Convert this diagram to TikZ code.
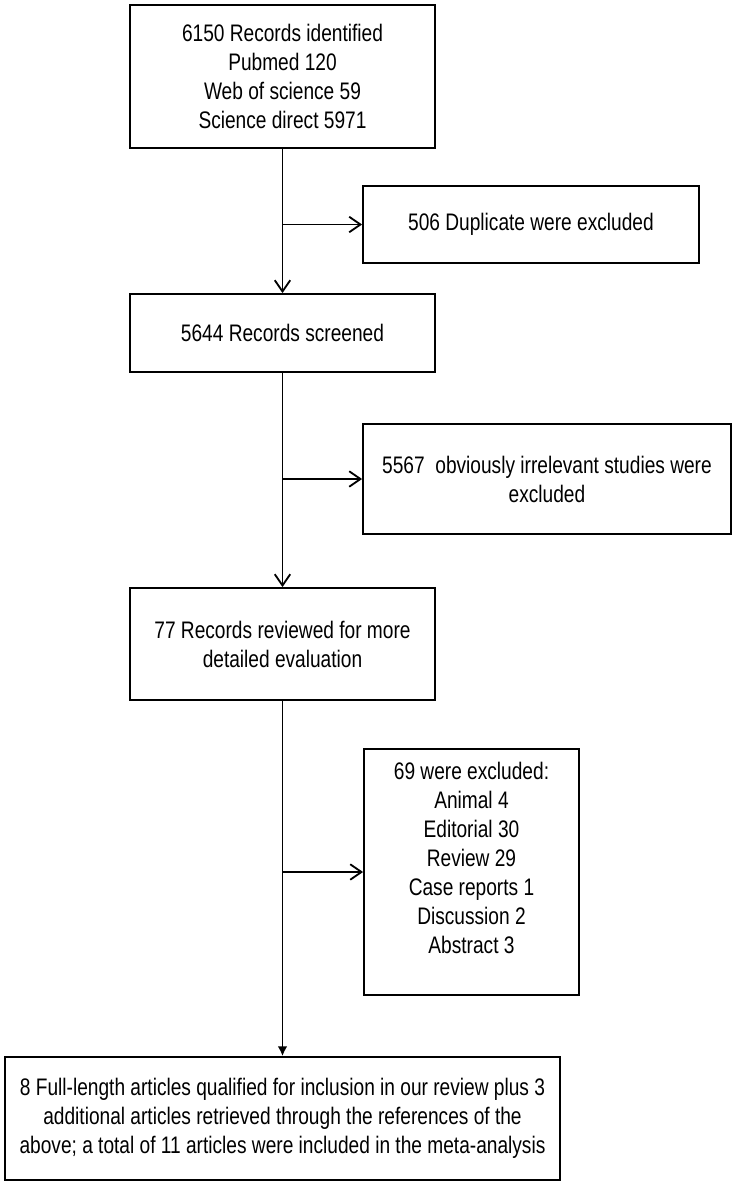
\documentclass[tikz,border=0pt]{standalone}
\usepackage{fontspec}
\setmainfont[FakeStretch=0.8]{Liberation Sans}
\usepackage{tikz}
\usetikzlibrary{arrows.meta}
\newcommand{\pxu}{0.025cm}

\begin{document}
\begin{tikzpicture}[x=\pxu,y=-\pxu,>={Straight Barb[length=8pt,width=11pt]},line width=1.3pt,
    flowbox/.style={draw,rectangle,inner sep=0pt,align=center,font=\fontsize{17}{20.6}\selectfont}]
			\useasboundingbox (0,0) rectangle (737,1185);

			% Draw the boxes of the main column
			\node[flowbox,minimum width=305*\pxu,minimum height=143*\pxu] (ident) at (282.5,76.5)
				{6150 Records identified\\Pubmed 120\\Web of science 59\\Science direct 5971};
			\node[flowbox,minimum width=305*\pxu,minimum height=78*\pxu] (screen) at (282.5,333)
				{5644 Records screened};
			\node[flowbox,minimum width=305*\pxu,minimum height=112*\pxu] (review) at (282.5,644)
				{77 Records reviewed for more\\detailed evaluation};
			\node[flowbox,minimum width=555*\pxu,minimum height=123*\pxu] (incl) at (282.5,1118.5)
				{8 Full-length articles qualified for inclusion in our review plus 3\\additional articles retrieved through the references of the\\above; a total of 11 articles were included in the meta-analysis};

			% Draw the exclusion boxes
			\node[flowbox,minimum width=336*\pxu,minimum height=77*\pxu] (dupl) at (531,224.5)
				{506 Duplicate were excluded};
			\node[flowbox,minimum width=368*\pxu,minimum height=110*\pxu] (irrel) at (547,479)
				{5567 \ obviously irrelevant studies were\\excluded};
			\node[flowbox,minimum width=215*\pxu,minimum height=246*\pxu] (excl) at (471.5,872)
				{69 were excluded:\\Animal 4\\Editorial 30\\Review 29\\Case reports 1\\Discussion 2\\Abstract 3\\[-1pt]};

			% Draw the arrows
			\draw[->] (ident.south) -- (screen.north);
			\draw[->] (ident.south |- dupl.west) -- (dupl.west);
			\draw[->] (screen.south) -- (review.north);
			\draw[->] (screen.south |- irrel.west) -- (irrel.west);
			\draw[-{Latex[length=7pt,width=7pt]}] (review.south) -- (incl.north);
			\draw[->] (review.south |- excl.west) -- (excl.west);
		\end{tikzpicture}
\end{document}
